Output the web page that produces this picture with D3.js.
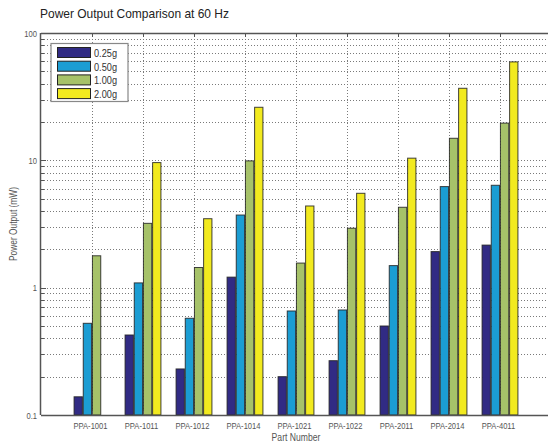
<!DOCTYPE html>
<html><head><meta charset="utf-8">
<script src="https://cdn.jsdelivr.net/npm/d3@7"></script>
<style>
html,body{margin:0;padding:0;background:#fff;}
svg{display:block;}
text{font-family:"Liberation Sans",Arial,sans-serif;}
</style></head>
<body>
<script>
const categories = ["PPA-1001","PPA-1011","PPA-1012","PPA-1014","PPA-1021","PPA-1022","PPA-2011","PPA-2014","PPA-4011"];
const seriesNames = ["0.25g","0.50g","1.00g","2.00g"];
const s025 = [0.139, 0.425, 0.23, 1.21, 0.20, 0.267, 0.50, 1.92, 2.16];
const s050 = [0.525, 1.09, 0.575, 3.72, 0.656, 0.668, 1.49, 6.22, 6.37];
const s100 = [1.78, 3.2, 1.44, 9.9, 1.56, 2.93, 4.28, 14.9, 19.6];
const s200 = [0, 9.6, 3.48, 26.1, 4.38, 5.51, 10.4, 36.8, 59.3];
const seriesValues = [s025, s050, s100, s200];
const colors = ["#312b84", "#1b9dd3", "#a6c269", "#f2ea1f"];
const yTickLabels = ["0.1", "1", "10", "100"];

const W = 548, H = 444;
const svg = d3.select("body").append("svg").attr("width", W).attr("height", H);

const x = d3.scaleLinear().domain([0, 10]).range([41, 551]);
const y = d3.scaleLog().domain([0.1, 100]).range([415, 33]);
const yMin = y.domain()[0];
const SX = 0.8; // condensed look

function ctext(parent, px, py, str, size, anchor, fill, sx) {
  return parent.append("text")
    .attr("transform", `translate(${px},${py}) scale(${sx || SX},1)`)
    .attr("text-anchor", anchor).attr("font-size", size).attr("fill", fill).text(str);
}

const gridColor = "#7a7a7a";
const gridVals = [];
for (let d = -1; d < 2; d++) for (let m = 1; m < 10; m++) gridVals.push(m * Math.pow(10, d));
gridVals.push(100);
svg.append("g").selectAll("line").data(gridVals.filter(v => v > yMin && v < 100)).join("line")
  .attr("x1", x(0)).attr("x2", x(10))
  .attr("y1", d => Math.round(y(d)) + 0.5).attr("y2", d => Math.round(y(d)) + 0.5)
  .attr("stroke", gridColor).attr("stroke-width", 1).attr("stroke-dasharray", "1,2");
svg.append("g").selectAll("line").data(categories).join("line")
  .attr("x1", (d, i) => Math.round(x(i + 1)) + 0.5).attr("x2", (d, i) => Math.round(x(i + 1)) + 0.5)
  .attr("y1", y(100)).attr("y2", y(yMin))
  .attr("stroke", gridColor).attr("stroke-width", 1).attr("stroke-dasharray", "1,2");

// bars
const step = 0.18, bw = 0.163;
const bars = [];
seriesValues.forEach((vals, si) => vals.forEach((v, ci) => bars.push({si, ci, v})));
svg.append("g").selectAll("rect").data(bars).join("rect")
  .attr("x", d => x(d.ci + 1 + (d.si - 1.5) * step - bw / 2))
  .attr("width", d => x(bw) - x(0))
  .attr("y", d => y(Math.max(d.v, yMin)))
  .attr("height", d => y(yMin) - y(Math.max(d.v, yMin)))
  .attr("fill", d => colors[d.si])
  .attr("stroke", "#222").attr("stroke-width", 1).attr("stroke-opacity", 0.85);

// axes box
const axisColor = "#555";
svg.append("line").attr("x1", x(0)).attr("x2", W).attr("y1", y(yMin) + 0.5).attr("y2", y(yMin) + 0.5).attr("stroke", axisColor).attr("stroke-width", 1.5);
svg.append("line").attr("x1", x(0)).attr("x2", W).attr("y1", y(100) + 0.5).attr("y2", y(100) + 0.5).attr("stroke", axisColor).attr("stroke-width", 1.5);
svg.append("line").attr("x1", x(0) - 0.5).attr("x2", x(0) - 0.5).attr("y1", y(100)).attr("y2", y(yMin)).attr("stroke", axisColor).attr("stroke-width", 1.5);

svg.append("g").selectAll("line").data(gridVals).join("line")
  .attr("x1", x(0)).attr("x2", d => x(0) + ([0.1,1,10,100].includes(d) ? 5 : 3))
  .attr("y1", d => Math.round(y(d)) + 0.5).attr("y2", d => Math.round(y(d)) + 0.5)
  .attr("stroke", axisColor);
svg.append("g").selectAll("line").data(categories).join("line")
  .attr("x1", (d, i) => Math.round(x(i + 1)) + 0.5).attr("x2", (d, i) => Math.round(x(i + 1)) + 0.5)
  .attr("y1", y(100)).attr("y2", y(100) + 4).attr("stroke", axisColor);
svg.append("g").selectAll("line").data(categories).join("line")
  .attr("x1", (d, i) => Math.round(x(i + 1)) + 0.5).attr("x2", (d, i) => Math.round(x(i + 1)) + 0.5)
  .attr("y1", y(yMin)).attr("y2", y(yMin) - 4).attr("stroke", axisColor);

// tick labels
const labelColor = "#555";
const gy = svg.append("g");
yTickLabels.forEach(t => ctext(gy, x(0) - 4, y(+t) + 3.5, t, 9.5, "end", labelColor));
const gx = svg.append("g");
categories.forEach((c, i) => ctext(gx, x(i + 1) - 1.5, y(yMin) + 14, c, 9.5, "middle", labelColor));

// axis titles
ctext(svg, x(5), 441, "Part Number", 10.5, "middle", labelColor, 0.82);
svg.append("text").attr("transform", `translate(17,${(y(100) + y(yMin)) / 2}) rotate(-90) scale(0.8,1)`)
  .attr("text-anchor", "middle").attr("font-size", 10.5).attr("fill", labelColor).text("Power Output (mW)");
// title
svg.append("text").attr("x", 40).attr("y", 18).attr("font-size", 13.5).attr("fill", "#222")
  .attr("textLength", 189).attr("lengthAdjust", "spacingAndGlyphs")
  .text("Power Output Comparison at 60 Hz");

// legend
const lg = svg.append("g");
lg.append("rect").attr("x", 51).attr("y", 43.5).attr("width", 77).attr("height", 58)
  .attr("fill", "#fff").attr("stroke", "#888").attr("stroke-width", 1.2);
seriesNames.forEach((s, i) => {
  const ry = 47.5 + i * 13.7;
  lg.append("rect").attr("x", 57.5).attr("y", ry).attr("width", 33).attr("height", 10)
    .attr("fill", colors[i]).attr("stroke", "#222").attr("stroke-width", 1);
  ctext(lg, 94, ry + 9.5, s, 11.5, "start", "#333");
});
</script>
</body></html>
